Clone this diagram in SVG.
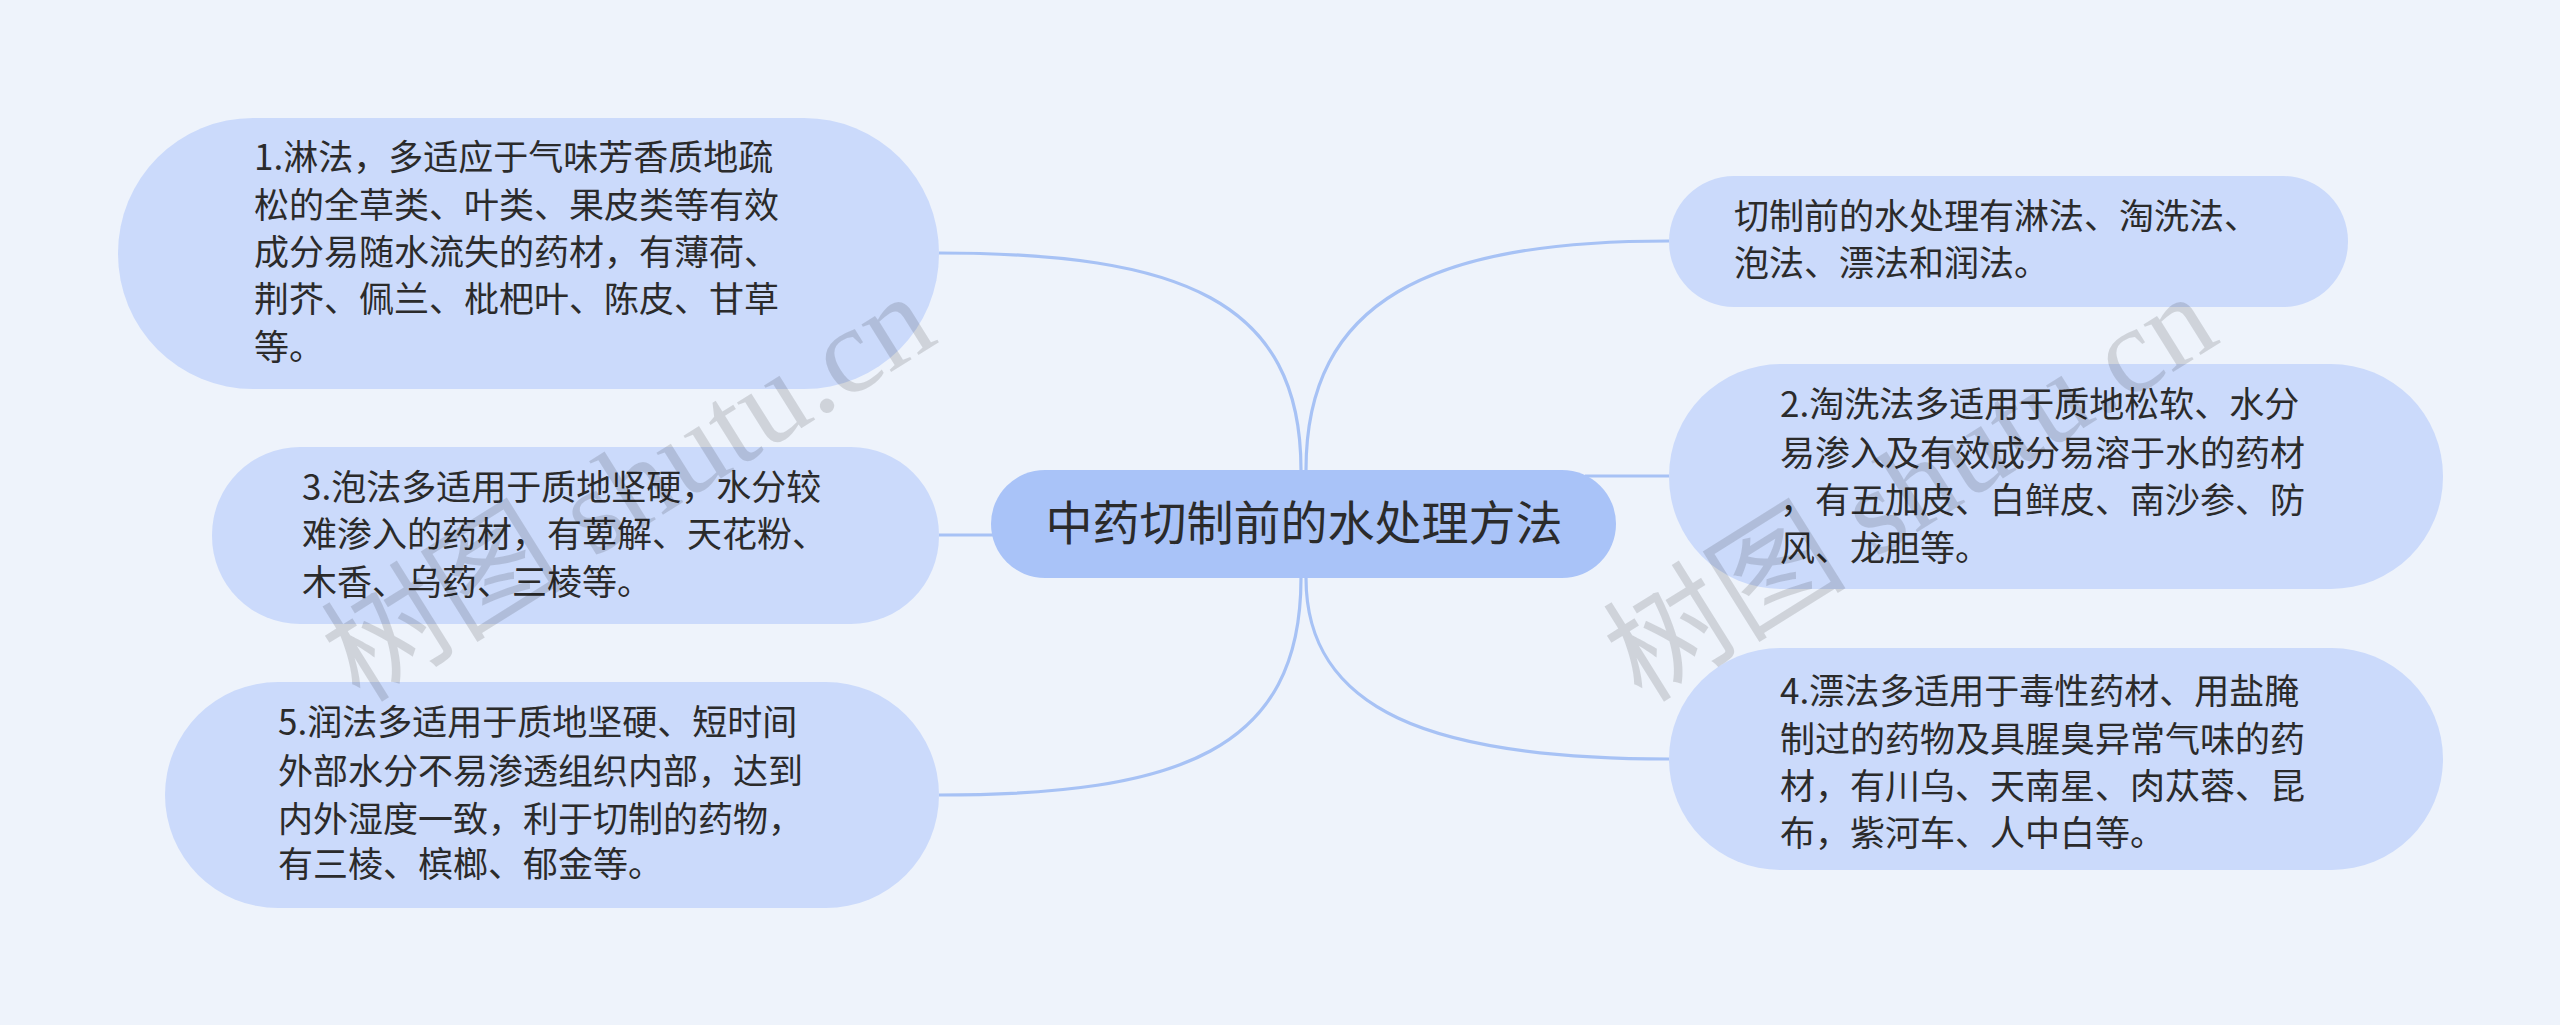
<svg xmlns="http://www.w3.org/2000/svg" width="2560" height="1025" viewBox="0 0 2560 1025">
<style>
.bg{fill:#EEF3FB}
.node{fill:#CBDAFB}
.root{fill:#A9C3F8}
.t{font-family:"Noto Sans CJK SC","Microsoft YaHei",sans-serif;font-size:35px;fill:#2B2B2B}
.rt{font-family:"Noto Sans CJK SC","Microsoft YaHei",sans-serif;font-size:47px;fill:#2B2B2B}
.edge{fill:none;stroke:#A7C2F5;stroke-width:3.2}
.wm{font-family:"Liberation Serif","Noto Sans CJK SC",serif;font-size:122px;fill:#000;fill-opacity:0.13}
</style>
<rect class="bg" x="0" y="0" width="2560" height="1025"/>
<g id="connectors">
<path class="edge" d="M1301,470 C1301,300 1180,253 939,253"/>
<path class="edge" d="M939,535 L993,535"/>
<path class="edge" d="M1301,578 C1301,750 1180,795 939,795"/>
<path class="edge" d="M1306,470 C1306,300 1430,241 1669,241"/>
<path class="edge" d="M1585,476 L1669,476"/>
<path class="edge" d="M1306,578 C1306,710 1430,759 1669,759"/>
</g>
<g id="root">
<rect class="root" x="991" y="470" width="625" height="108" rx="54"/>
<text class="rt" x="1304" y="540" text-anchor="middle">中药切制前的水处理方法</text>
</g>
<g id="node1">
<rect class="node" x="118" y="118" width="821" height="271" rx="135"/>
<text class="t" x="254" y="170">1.淋法，多适应于气味芳香质地疏</text>
<text class="t" x="254" y="218">松的全草类、叶类、果皮类等有效</text>
<text class="t" x="254" y="265">成分易随水流失的药材，有薄荷、</text>
<text class="t" x="254" y="312">荆芥、佩兰、枇杷叶、陈皮、甘草</text>
<text class="t" x="254" y="360">等。</text>
</g>
<g id="node3">
<rect class="node" x="212" y="447" width="727" height="177" rx="88"/>
<text class="t" x="302" y="500">3.泡法多适用于质地坚硬，水分较</text>
<text class="t" x="302" y="547">难渗入的药材，有萆解、天花粉、</text>
<text class="t" x="302" y="595">木香、乌药、三棱等。</text>
</g>
<g id="node5">
<rect class="node" x="165" y="682" width="774" height="226" rx="113"/>
<text class="t" x="278" y="735">5.润法多适用于质地坚硬、短时间</text>
<text class="t" x="278" y="784">外部水分不易渗透组织内部，达到</text>
<text class="t" x="278" y="832">内外湿度一致，利于切制的药物，</text>
<text class="t" x="278" y="877">有三棱、槟榔、郁金等。</text>
</g>
<g id="nodeR1">
<rect class="node" x="1669" y="176" width="679" height="131" rx="65"/>
<text class="t" x="1734" y="229">切制前的水处理有淋法、淘洗法、</text>
<text class="t" x="1734" y="276">泡法、漂法和润法。</text>
</g>
<g id="node2">
<rect class="node" x="1669" y="364" width="774" height="225" rx="112"/>
<text class="t" x="1780" y="417">2.淘洗法多适用于质地松软、水分</text>
<text class="t" x="1780" y="466">易渗入及有效成分易溶于水的药材</text>
<text class="t" x="1780" y="513">，有五加皮、白鲜皮、南沙参、防</text>
<text class="t" x="1780" y="561">风、龙胆等。</text>
</g>
<g id="node4">
<rect class="node" x="1669" y="648" width="774" height="222" rx="111"/>
<text class="t" x="1780" y="704">4.漂法多适用于毒性药材、用盐腌</text>
<text class="t" x="1780" y="752">制过的药物及具腥臭异常气味的药</text>
<text class="t" x="1780" y="799">材，有川乌、天南星、肉苁蓉、昆</text>
<text class="t" x="1780" y="846">布，紫河车、人中白等。</text>
</g>
<g id="watermarks">
<text class="wm" transform="translate(360,704) rotate(-32)">树图 shutu.cn</text>
<text class="wm" transform="translate(1642,704) rotate(-32)">树图 shutu.cn</text>
</g>
</svg>
